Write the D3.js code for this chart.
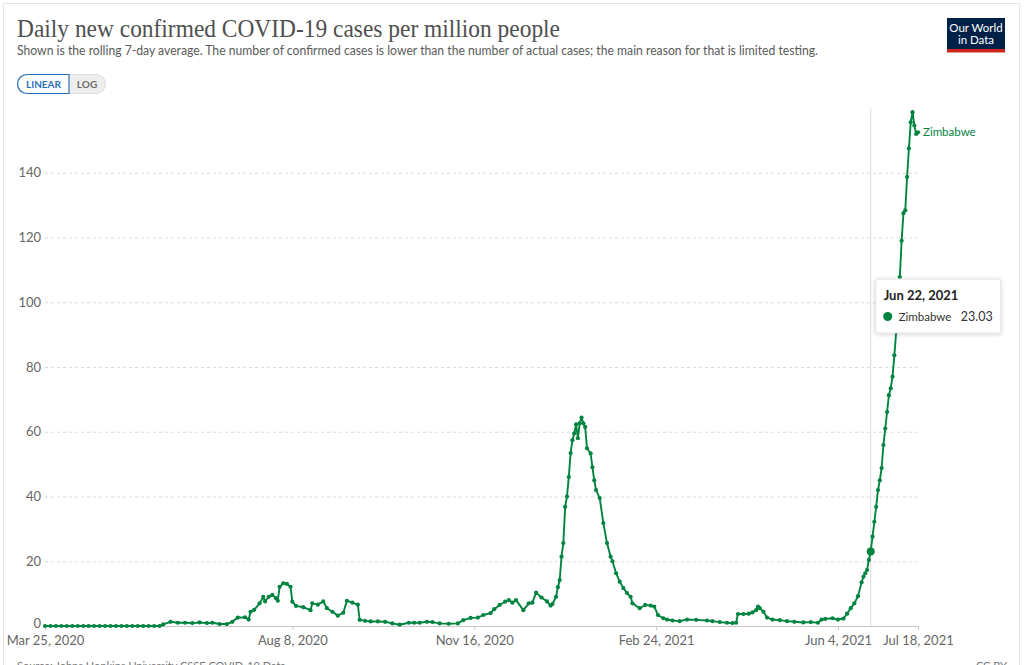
<!DOCTYPE html>
<html>
<head>
<meta charset="utf-8">
<script src="https://cdn.jsdelivr.net/npm/d3@7"></script>
<style>
    body { margin: 0; background: #fff; }
    text { font-family: Lato, "Noto Sans", sans-serif; }
</style>
</head>
<body>
<svg id="chart"></svg>
<script>
// Zimbabwe, daily new confirmed cases per million (7-day avg)
const dates = [
    '2020-03-25', '2020-03-28', '2020-03-31', '2020-04-03', '2020-04-06', '2020-04-09', '2020-04-12',
    '2020-04-15', '2020-04-18', '2020-04-21', '2020-04-24', '2020-04-27', '2020-04-30', '2020-05-03',
    '2020-05-06', '2020-05-09', '2020-05-12', '2020-05-15', '2020-05-18', '2020-05-21', '2020-05-24',
    '2020-05-27', '2020-05-29', '2020-06-02', '2020-06-06', '2020-06-10', '2020-06-14', '2020-06-18',
    '2020-06-22', '2020-06-25', '2020-06-29', '2020-07-03', '2020-07-06', '2020-07-09', '2020-07-13',
    '2020-07-15', '2020-07-16', '2020-07-18', '2020-07-21', '2020-07-23', '2020-07-24', '2020-07-26',
    '2020-07-28', '2020-07-30', '2020-07-31', '2020-08-01', '2020-08-03', '2020-08-05', '2020-08-07',
    '2020-08-08', '2020-08-10', '2020-08-14', '2020-08-18', '2020-08-19', '2020-08-22', '2020-08-25',
    '2020-08-27', '2020-08-30', '2020-09-02', '2020-09-05', '2020-09-07', '2020-09-10', '2020-09-13',
    '2020-09-14', '2020-09-17', '2020-09-20', '2020-09-24', '2020-09-28', '2020-10-02', '2020-10-06',
    '2020-10-11', '2020-10-14', '2020-10-17', '2020-10-21', '2020-10-24', '2020-10-28', '2020-11-02',
    '2020-11-07', '2020-11-10', '2020-11-14', '2020-11-18', '2020-11-21', '2020-11-25', '2020-11-27',
    '2020-11-30', '2020-12-03', '2020-12-05', '2020-12-07', '2020-12-09', '2020-12-13', '2020-12-16',
    '2020-12-18', '2020-12-20', '2020-12-23', '2020-12-26', '2020-12-28', '2020-12-29', '2020-12-31',
    '2021-01-01', '2021-01-02', '2021-01-03', '2021-01-04', '2021-01-05', '2021-01-06', '2021-01-07',
    '2021-01-08', '2021-01-09', '2021-01-10', '2021-01-11', '2021-01-12', '2021-01-13', '2021-01-14',
    '2021-01-15', '2021-01-16', '2021-01-17', '2021-01-19', '2021-01-20', '2021-01-21', '2021-01-22',
    '2021-01-24', '2021-01-26', '2021-01-28', '2021-01-30', '2021-01-31', '2021-02-02', '2021-02-04',
    '2021-02-06', '2021-02-08', '2021-02-10', '2021-02-11', '2021-02-15', '2021-02-18', '2021-02-21',
    '2021-02-23', '2021-02-25', '2021-02-28', '2021-03-02', '2021-03-05', '2021-03-09', '2021-03-13',
    '2021-03-18', '2021-03-24', '2021-03-27', '2021-03-31', '2021-04-04', '2021-04-07', '2021-04-09',
    '2021-04-10', '2021-04-13', '2021-04-16', '2021-04-18', '2021-04-20', '2021-04-21', '2021-04-22',
    '2021-04-24', '2021-04-26', '2021-04-29', '2021-05-03', '2021-05-07', '2021-05-11', '2021-05-16',
    '2021-05-20', '2021-05-24', '2021-05-26', '2021-05-28', '2021-06-01', '2021-06-04', '2021-06-07',
    '2021-06-09', '2021-06-11', '2021-06-13', '2021-06-15', '2021-06-17', '2021-06-18', '2021-06-19',
    '2021-06-20', '2021-06-21', '2021-06-22', '2021-06-23', '2021-06-24', '2021-06-25', '2021-06-26',
    '2021-06-27', '2021-06-28', '2021-06-29', '2021-06-30', '2021-07-01', '2021-07-02', '2021-07-03',
    '2021-07-04', '2021-07-05', '2021-07-06', '2021-07-08', '2021-07-09', '2021-07-10', '2021-07-11',
    '2021-07-12', '2021-07-13', '2021-07-14', '2021-07-15', '2021-07-16', '2021-07-17', '2021-07-18'
]
const cases = [
    0, 0, 0, 0, 0, 0, 0,
    0, 0, 0, 0, 0, 0, 0,
    0, 0, 0, 0, 0, 0, 0,
    0, 0.5, 1.3, 1.0, 1.0, 0.9, 1.1,
    0.9, 1.0, 0.6, 0.6, 1.3, 2.6, 2.7,
    2.0, 4.4, 5.0, 7.0, 9.0, 7.6, 9.0,
    9.6, 8.6, 7.8, 12.1, 13.2, 13.0, 12.1,
    7.5, 6.2, 5.8, 4.9, 7.0, 6.6, 7.6,
    5.5, 4.4, 3.2, 4.1, 7.8, 7.2, 6.6,
    1.9, 1.6, 1.4, 1.4, 1.3, 0.8, 0.4,
    1.0, 1.0, 1.0, 1.3, 1.2, 0.8, 0.7,
    0.8, 1.8, 2.5, 2.6, 3.4, 4.0, 5.2,
    6.5, 7.5, 8.0, 7.2, 8.0, 4.9, 7.0,
    7.2, 10.3, 8.8, 7.6, 6.3, 6.8, 9.0,
    12.0, 14.2, 21.4, 25.6, 36.8, 40, 46,
    53.4, 57.4, 59.5, 62.3, 58, 62.6, 64.4,
    62.6, 61.5, 54.9, 53.3, 49, 45, 42,
    39.5, 31.8, 25.6, 21.4, 20, 16.3, 13.7,
    11.7, 10.2, 9.0, 7.0, 5.5, 6.5, 6.3,
    6.0, 3.4, 2.4, 2.0, 1.7, 1.5, 2.0,
    1.9, 1.7, 1.5, 1.2, 1.0, 0.9, 1.0,
    3.7, 3.7, 3.8, 4.2, 4.9, 6.0, 5.5,
    4.4, 2.6, 2.0, 1.8, 1.5, 1.3, 1.1,
    1.2, 1.0, 2.0, 2.2, 2.4, 2.0, 2.3,
    3.8, 5.5, 7.0, 9.2, 13.5, 15.2, 16.3,
    17.3, 20.4, 23.03, 27.6, 32.2, 36.8, 42,
    45, 48.8, 55.9, 61, 66.1, 71.3, 73.4,
    77, 83.6, 90.8, 107.8, 119, 127.5, 128.4,
    138.7, 147.5, 155.6, 158.7, 154.6, 152, 152.5
]

const yTicks = [0, 20, 40, 60, 80, 100, 120, 140]
const xTicks = ['2020-03-25', '2020-08-08', '2020-11-16', '2021-02-24', '2021-06-04', '2021-07-18']
const xDomain = ['2020-03-25', '2021-07-18']
const yDomain = [0, 160]

const country = 'Zimbabwe'
const hoverDate = '2021-06-22'

const titleText = 'Daily new confirmed COVID-19 cases per million people'
const subtitleText = 'Shown is the rolling 7-day average. The number of confirmed cases is lower than the number of actual cases; the main reason for that is limited testing.'
const sourceText = 'Source: Johns Hopkins University CSSE COVID-19 Data'

class LineChart {
    constructor(_config) {
        this.config = {
            parentElement: _config.parentElement,
            containerWidth: 1024,
            containerHeight: 665,
            margin: {top: 108, right: 106, bottom: 39, left: 45},
        }
        this.color = '#00843f'
        this.parseDate = d3.timeParse('%Y-%m-%d')
        this.data = dates.map((d, i) => ({date: this.parseDate(d), value: cases[i]}))
        this.initVis()
    }

    /**
     * Static parts: frame, header, toggle and logo
     */
    initVis() {
        let vis = this

        vis.width = vis.config.containerWidth - vis.config.margin.left - vis.config.margin.right
        vis.height = vis.config.containerHeight - vis.config.margin.top - vis.config.margin.bottom

        vis.svg = d3.select(vis.config.parentElement)
            .attr('width', vis.config.containerWidth)
            .attr('height', vis.config.containerHeight)

        vis.svg.append('rect')
            .attr('x', 3.5).attr('y', 3.5)
            .attr('width', 1016).attr('height', 700)
            .attr('fill', 'none')
            .attr('stroke', '#e6e6e6')

        vis.svg.append('text')
            .text(titleText)
            .attr('x', 17).attr('y', 37)
            .attr('textLength', 543)
            .attr('lengthAdjust', 'spacingAndGlyphs')
            .style('font-family', '"Liberation Serif", "DejaVu Serif", serif')
            .style('font-size', '25px')
            .attr('fill', '#4f4f4f')

        vis.svg.append('text')
            .text(subtitleText)
            .attr('x', 17).attr('y', 55)
            .attr('textLength', 801)
            .attr('lengthAdjust', 'spacingAndGlyphs')
            .style('font-size', '12.5px')
            .attr('fill', '#5b5b5b')

        vis.renderToggle()
        vis.renderLogo()

        vis.chart = vis.svg.append('g')
            .attr('transform', `translate(${vis.config.margin.left}, ${vis.config.margin.top})`)

        vis.renderYAxis()
        vis.renderXAxis()
        vis.renderVis()
        vis.renderFooter()
    }

    renderToggle() {
        let vis = this
        const g = vis.svg.append('g').attr('transform', 'translate(17, 74)')
        g.append('rect')
            .attr('x', 0.5).attr('y', 0.5)
            .attr('width', 88).attr('height', 19).attr('rx', 9.5)
            .attr('fill', '#eeeeee').attr('stroke', '#dcdcdc')
        g.append('path')
            .attr('d', 'M52,0.5 H10 A9.5,9.5 0 0 0 10,19.5 H52 Z')
            .attr('fill', '#fff').attr('stroke', '#2a6fbb').attr('stroke-width', 1.2)
        g.append('text').text('LINEAR')
            .attr('x', 26.5).attr('y', 14)
            .attr('text-anchor', 'middle')
            .style('font-size', '10px').style('font-weight', 'bold')
            .attr('fill', '#2a6fbb')
        g.append('text').text('LOG')
            .attr('x', 70).attr('y', 14)
            .attr('text-anchor', 'middle')
            .style('font-size', '10px').style('font-weight', 'bold')
            .attr('fill', '#6b6b6b')
    }

    renderLogo() {
        let vis = this
        const g = vis.svg.append('g').attr('transform', 'translate(947, 18)')
        g.append('rect').attr('width', 58).attr('height', 34).attr('fill', '#002147')
        g.append('rect').attr('y', 31).attr('width', 58).attr('height', 3.5).attr('fill', '#ce261e')
        g.append('text').text('Our World')
            .attr('x', 29).attr('y', 13.5).attr('text-anchor', 'middle')
            .style('font-size', '11.5px').attr('fill', '#fff')
        g.append('text').text('in Data')
            .attr('x', 29).attr('y', 26).attr('text-anchor', 'middle')
            .style('font-size', '11.5px').attr('fill', '#fff')
    }

    // Y scale, dashed grid lines and labels
    renderYAxis() {
        let vis = this

        vis.yScale = d3.scaleLinear()
            .domain(yDomain)
            .range([vis.height, 0])

        vis.yAxis = d3.axisLeft(vis.yScale)
            .tickValues(yTicks)
            .tickSize(-vis.width)
            .tickPadding(4)

        vis.yAxisG = vis.chart.append('g')
            .attr('class', 'y_axis')
            .call(vis.yAxis)

        vis.yAxisG.select('.domain').remove()
        vis.yAxisG.selectAll('.tick line')
            .attr('stroke', '#dadada')
            .attr('stroke-dasharray', '3,3')
            .filter(d => d === 0).remove()
        vis.yAxisG.selectAll('.tick text')
            .style('font-size', '13px')
            .attr('fill', '#666')
        // the zero label sits just above the date labels
        vis.yAxisG.selectAll('.tick text')
            .filter(d => d === 0)
            .attr('dy', '0.1em')
    }

    // X scale with date ticks
    renderXAxis() {
        let vis = this

        vis.xScale = d3.scaleTime()
            .domain(xDomain.map(vis.parseDate))
            .range([0, vis.width])

        vis.xAxis = d3.axisBottom(vis.xScale)
            .tickValues(xTicks.map(vis.parseDate))
            .tickFormat(d3.timeFormat('%b %-d, %Y'))
            .tickSize(4)
            .tickSizeOuter(0)
            .tickPadding(6)

        vis.xAxisG = vis.chart.append('g')
            .attr('class', 'x_axis')
            .attr('transform', `translate(0, ${vis.height})`)
            .call(vis.xAxis)

        vis.xAxisG.select('.domain').attr('stroke', '#c8c8c8')
        vis.xAxisG.selectAll('.tick line').attr('stroke', '#c8c8c8')
        vis.xAxisG.selectAll('.tick text')
            .style('font-size', '13px')
            .attr('fill', '#666')
    }

    renderVis() {
        let vis = this

        const hover = vis.data.find(d => +d.date === +vis.parseDate(hoverDate))
        const hx = vis.xScale(hover.date)

        vis.chart.append('line')
            .attr('x1', hx).attr('x2', hx)
            .attr('y1', 0).attr('y2', vis.height)
            .attr('stroke', '#dcdcdc')

        const line = d3.line()
            .x(d => vis.xScale(d.date))
            .y(d => vis.yScale(d.value))

        vis.chart.append('path')
            .datum(vis.data)
            .attr('fill', 'none')
            .attr('stroke', vis.color)
            .attr('stroke-width', 1.9)
            .attr('stroke-linejoin', 'round')
            .attr('d', line)

        vis.chart.selectAll('.point')
            .data(vis.data)
            .join('circle')
            .attr('class', 'point')
            .attr('r', 2.1)
            .attr('cx', d => vis.xScale(d.date))
            .attr('cy', d => vis.yScale(d.value))
            .attr('fill', vis.color)

        vis.chart.append('circle')
            .attr('r', 4)
            .attr('cx', hx)
            .attr('cy', vis.yScale(hover.value))
            .attr('fill', vis.color)

        const last = vis.data[vis.data.length - 1]
        vis.chart.append('text')
            .text(country)
            .attr('x', vis.xScale(last.date) + 5)
            .attr('y', vis.yScale(last.value) + 4)
            .style('font-size', '11.5px')
            .attr('fill', vis.color)

        vis.renderTooltip(hover)
    }

    renderTooltip(hover) {
        let vis = this
        const tx = vis.xScale(hover.date) + 5
        const ty = 171

        const defs = vis.svg.append('defs')
        const f = defs.append('filter').attr('id', 'shadow')
            .attr('x', '-20%').attr('y', '-20%').attr('width', '140%').attr('height', '150%')
        f.append('feDropShadow')
            .attr('dx', 0).attr('dy', 1).attr('stdDeviation', 2)
            .attr('flood-color', '#000').attr('flood-opacity', 0.18)

        const g = vis.chart.append('g').attr('transform', `translate(${tx}, ${ty})`)
        g.append('rect')
            .attr('width', 125).attr('height', 54).attr('rx', 2)
            .attr('fill', '#fff').attr('stroke', '#e2e2e2')
            .attr('filter', 'url(#shadow)')
        g.append('text')
            .text(d3.timeFormat('%b %-d, %Y')(hover.date))
            .attr('x', 8).attr('y', 21)
            .style('font-size', '13px').style('font-weight', 'bold')
            .attr('fill', '#222')
        g.append('circle')
            .attr('cx', 12).attr('cy', 37.5).attr('r', 4.5)
            .attr('fill', vis.color)
        g.append('text').text(country)
            .attr('x', 23).attr('y', 42)
            .style('font-size', '11.5px')
            .attr('fill', '#333')
        g.append('text').text(hover.value.toFixed(2))
            .attr('x', 117).attr('y', 42)
            .attr('text-anchor', 'end')
            .style('font-size', '12.5px')
            .attr('fill', '#333')
    }

    // source line and licence, clipped by the bottom edge as in the original
    renderFooter() {
        let vis = this
        vis.svg.append('text')
            .text(sourceText)
            .attr('x', 17).attr('y', 670)
            .style('font-size', '11px')
            .attr('fill', '#777')
        vis.svg.append('text')
            .text('CC BY')
            .attr('x', 1007).attr('y', 670)
            .attr('text-anchor', 'end')
            .style('font-size', '11px')
            .attr('fill', '#777')
    }
}

new LineChart({parentElement: '#chart'})
</script>
</body>
</html>
